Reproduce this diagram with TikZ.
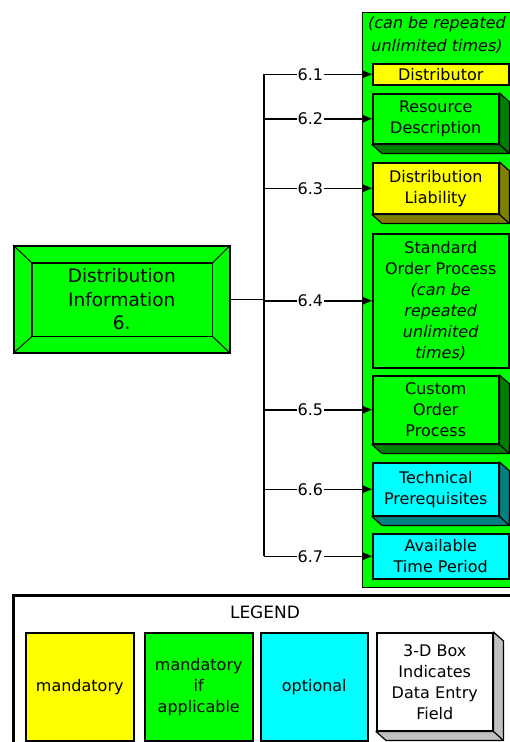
\documentclass[tikz,border=0pt]{standalone}
\usepackage{fontspec}
\setmainfont{DejaVu Sans}
\usetikzlibrary{arrows.meta}

\definecolor{cyel}{RGB}{255,255,0}
\definecolor{cgrn}{RGB}{0,255,0}
\definecolor{ccyn}{RGB}{0,255,255}
\definecolor{dyel}{RGB}{128,128,0}
\definecolor{dgrn}{RGB}{0,128,0}
\definecolor{dcyn}{RGB}{0,128,128}
\definecolor{dgry}{RGB}{192,192,192}

% extruded side of a 3-D data-entry box
\newcommand{\extrude}[2]{%
  \filldraw[fill=#2, draw=black, line width=1.2pt, line join=round]
    (#1.north east) -- ([shift={(10,9)}]#1.north east)
    -- ([shift={(10,9)}]#1.south east) -- ([shift={(10,9)}]#1.south west)
    -- (#1.south west) -- (#1.south east) -- cycle;
  \draw[line width=1.2pt] (#1.south east) -- ([shift={(10,9)}]#1.south east);}

\begin{document}
\begin{tikzpicture}[x=1pt,y=-1pt,
  txt/.style={font=\fontsize{16}{21}\selectfont, align=center},
  field/.style={draw=black, line width=1.5pt, txt, inner sep=0pt, anchor=north west},
  conn/.style={line width=1.5pt, -{Triangle[length=10pt,width=8pt]}},
  lbl/.style={fill=white, inner sep=1pt, txt, pos=0.43},
  keybox/.style={draw=black, line width=1.5pt, txt, inner sep=0pt, anchor=north west,
    minimum height=108, text width=108}]

\useasboundingbox (0,0) rectangle (510,742);
\fill[white] (0,0) rectangle (510,742);

% repeatable group container
\node[draw=black, fill=cgrn, line width=1pt, anchor=north west, inner sep=0pt,
  minimum width=152, minimum height=575] (group) at (362,12) {};
\node[txt, font=\fontsize{16}{23}\selectfont\itshape] (note) at (437,35)
  {(can be repeated\\unlimited times)};

% child fields
\node[field, fill=cyel, minimum width=136, minimum height=21] (d1) at (372,63) {Distributor};
\node[field, fill=cgrn, minimum width=126, minimum height=50] (d2) at (372,93) {Resource\\Description};
\extrude{d2}{dgrn}
\node[field, fill=cyel, minimum width=126, minimum height=51] (d3) at (372,162) {Distribution\\Liability};
\extrude{d3}{dyel}
\node[field, fill=cgrn, minimum width=136, minimum height=134] (d4) at (372,233)
  {Standard\\Order Process\\\textit{(can be}\\\textit{repeated}\\\textit{unlimited}\\\textit{times)}};
\node[field, fill=cgrn, minimum width=126, minimum height=68] (d5) at (372,375) {Custom\\Order\\Process};
\extrude{d5}{dgrn}
\node[field, fill=ccyn, minimum width=126, minimum height=53] (d6) at (372,462) {Technical\\Prerequisites};
\extrude{d6}{dcyn}
\node[field, fill=ccyn, minimum width=136, minimum height=45] (d7) at (372,533) {Available\\Time Period};

% parent entity with bevelled frame
\node[draw=black, fill=cgrn, line width=1.5pt, anchor=north west, inner sep=0pt,
  minimum width=216, minimum height=107, align=center,
  font=\fontsize{18.5}{23.5}\selectfont] (main) at (13,245)
  {Distribution\\Information\\6.};
\coordinate (ia) at ([shift={(19,18)}]main.north west);
\coordinate (ib) at ([shift={(-18,18)}]main.north east);
\coordinate (ic) at ([shift={(-18,-17)}]main.south east);
\coordinate (id) at ([shift={(19,-17)}]main.south west);
\draw[line width=1.5pt] (ia) -- (ib) -- (ic) -- (id) -- cycle;
\draw[line width=1pt] (main.north west) -- (ia) (main.north east) -- (ib)
  (main.south east) -- (ic) (main.south west) -- (id);

% connectors
\coordinate (bus) at (264,298);
\draw[line width=1.5pt] (main.east) -- (bus |- main.east);
\draw[line width=1.5pt] (bus |- d1.west) -- (bus |- d7.west);
\draw[conn] (bus |- d1.west) -- node[lbl]{6.1} (d1.west);
\draw[conn] (bus |- d2.west) -- node[lbl]{6.2} (d2.west);
\draw[conn] (bus |- d3.west) -- node[lbl]{6.3} (d3.west);
\draw[conn] (bus |- d4.west) -- node[lbl]{6.4} (d4.west);
\draw[conn] (bus |- d5.west) -- node[lbl]{6.5} (d5.west);
\draw[conn] (bus |- d6.west) -- node[lbl]{6.6} (d6.west);
\draw[conn] (bus |- d7.west) -- node[lbl]{6.7} (d7.west);

% legend
\node[draw=black, line width=3pt, anchor=north west, inner sep=0pt,
  minimum width=510, minimum height=160] (legend) at (12,594) {};
\node[txt, font=\fontsize{17}{21}\selectfont] (ltitle) at (265,612) {LEGEND};
\node[keybox, fill=cyel] (k1) at (25,632) {mandatory};
\node[keybox, fill=cgrn] (k2) at (144,632) {mandatory\\if\\applicable};
\node[keybox, fill=ccyn, text width=107] (k3) at (260,632) {optional};
\node[keybox, fill=white, minimum height=98, text width=116] (k4) at (376,632)
  {3-D Box\\Indicates\\Data Entry\\Field};
\extrude{k4}{dgry}
\end{tikzpicture}
\end{document}
